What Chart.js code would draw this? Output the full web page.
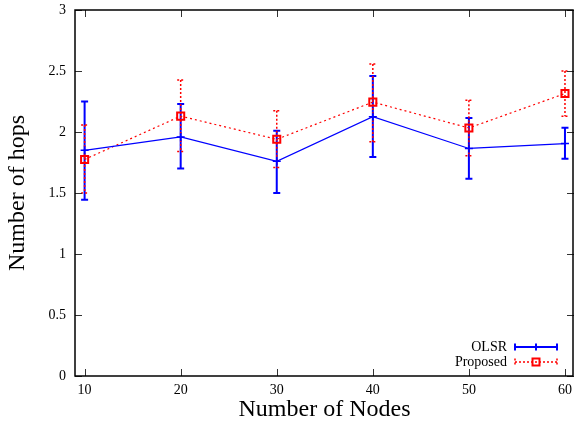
<!DOCTYPE html>
<html>
<head>
<meta charset="utf-8">
<script src="https://cdn.jsdelivr.net/npm/chart.js@4/dist/chart.umd.min.js"></script>
<style>
html,body{margin:0;padding:0;background:#fff;}
#wrap{width:574px;height:424px;}
</style>
</head>
<body>
<div id="wrap"><canvas id="c" width="574" height="424"></canvas></div>
<script>
const nodes = [10, 20, 30, 40, 50, 60];
const olsrMean = [1.85, 1.96, 1.76, 2.125, 1.865, 1.905];
const olsrLow  = [1.445, 1.70, 1.50, 1.795, 1.617, 1.78];
const olsrHigh = [2.25, 2.23, 2.01, 2.46, 2.115, 2.035];
const propMean = [1.775, 2.13, 1.94, 2.245, 2.033, 2.315];
const propLow  = [1.50, 1.84, 1.71, 1.92, 1.806, 2.13];
const propHigh = [2.057, 2.426, 2.175, 2.557, 2.26, 2.50];
const xTicks = [10, 20, 30, 40, 50, 60];
const yTicks = [0, 0.5, 1, 1.5, 2, 2.5, 3];

const FONT = "'Liberation Serif', 'Times New Roman', serif";
const BLUE = '#0000ff';
const RED = '#ff0000';

const errorBars = {
  olsr: {low: olsrLow, high: olsrHigh, color: BLUE, dash: [], width: 2},
  prop: {low: propLow, high: propHigh, color: RED, dash: [2, 2], width: 1.5}
};

function drawBar(ctx, x, y1, y2, eb) {
  ctx.save();
  ctx.strokeStyle = eb.color;
  ctx.lineWidth = eb.width;
  ctx.setLineDash(eb.dash);
  ctx.beginPath();
  ctx.moveTo(x, y1); ctx.lineTo(x, y2);
  ctx.moveTo(x - 3.5, y1); ctx.lineTo(x + 3.5, y1);
  ctx.moveTo(x - 3.5, y2); ctx.lineTo(x + 3.5, y2);
  ctx.stroke();
  ctx.restore();
}

const customPlugin = {
  id: 'custom',
  beforeDatasetsDraw(chart) {
    const ctx = chart.ctx, xs = chart.scales.x, ys = chart.scales.y;
    chart.data.datasets.forEach(ds => {
      const eb = errorBars[ds.key];
      nodes.forEach((n, i) => {
        drawBar(ctx, xs.getPixelForValue(n), ys.getPixelForValue(eb.high[i]), ys.getPixelForValue(eb.low[i]), eb);
      });
    });
  },
  afterDraw(chart) {
    const ctx = chart.ctx, a = chart.chartArea, xs = chart.scales.x, ys = chart.scales.y;
    ctx.save();
    ctx.strokeStyle = '#333';
    ctx.lineWidth = 1;
    ctx.beginPath();
    xTicks.forEach(v => {
      const x = Math.round(xs.getPixelForValue(v)) + 0.5;
      ctx.moveTo(x, a.bottom); ctx.lineTo(x, a.bottom - 7);
      ctx.moveTo(x, a.top); ctx.lineTo(x, a.top + 7);
    });
    yTicks.forEach(v => {
      const y = Math.round(ys.getPixelForValue(v)) + 0.5;
      ctx.moveTo(a.left, y); ctx.lineTo(a.left + 7, y);
      ctx.moveTo(a.right, y); ctx.lineTo(a.right - 7, y);
    });
    ctx.stroke();
    ctx.strokeStyle = '#000';
    ctx.lineWidth = 1.5;
    ctx.strokeRect(a.left, a.top, a.right - a.left - 1, a.bottom - a.top);
    ctx.font = '14px ' + FONT;
    ctx.fillStyle = '#000';
    ctx.textAlign = 'right';
    ctx.textBaseline = 'middle';
    const rows = [{y: 347, key: 'olsr'}, {y: 362, key: 'prop'}];
    chart.data.datasets.forEach((ds, i) => {
      const r = rows[i];
      const eb = errorBars[ds.key];
      ctx.fillText(ds.label, 507, r.y);
      ctx.save();
      ctx.strokeStyle = eb.color;
      ctx.lineWidth = ds.key === 'olsr' ? 2 : 1.5;
      ctx.setLineDash(eb.dash);
      ctx.beginPath();
      ctx.moveTo(515, r.y); ctx.lineTo(557, r.y);
      ctx.moveTo(515, r.y - 3.5); ctx.lineTo(515, r.y + 3.5);
      ctx.moveTo(557, r.y - 3.5); ctx.lineTo(557, r.y + 3.5);
      ctx.stroke();
      ctx.setLineDash([]);
      ctx.beginPath();
      if (ds.key === 'olsr') {
        ctx.moveTo(536, r.y - 3.5); ctx.lineTo(536, r.y + 3.5);
        ctx.stroke();
      } else {
        ctx.lineWidth = 2;
        ctx.strokeRect(532.5, r.y - 3.5, 7, 7);
      }
      ctx.restore();
    });
    ctx.restore();
  }
};

new Chart(document.getElementById('c'), {
  type: 'line',
  data: {
    datasets: [
      {
        key: 'olsr',
        label: 'OLSR',
        data: nodes.map((n, i) => ({x: n, y: olsrMean[i]})),
        borderColor: BLUE,
        borderWidth: 1.2,
        pointStyle: 'cross',
        pointRadius: 4,
        pointBorderWidth: 1.5,
        pointBorderColor: BLUE,
        fill: false,
        tension: 0
      },
      {
        key: 'prop',
        label: 'Proposed',
        data: nodes.map((n, i) => ({x: n, y: propMean[i]})),
        borderColor: RED,
        borderWidth: 1.2,
        borderDash: [2, 3],
        pointStyle: 'rect',
        pointRadius: 5,
        pointBorderWidth: 2,
        pointBorderColor: RED,
        pointBackgroundColor: 'rgba(255,255,255,0)',
        fill: false,
        tension: 0
      }
    ]
  },
  options: {
    responsive: false,
    animation: false,
    layout: {autoPadding: false, padding: {top: 10, right: 0, left: 0, bottom: 0}},
    plugins: {legend: {display: false}, tooltip: {enabled: false}},
    scales: {
      x: {
        type: 'linear',
        min: 9,
        max: 60.94,
        afterBuildTicks: s => { s.ticks = xTicks.map(v => ({value: v})); },
        afterFit: s => { s.height = 48; s.paddingLeft = 0; s.paddingRight = 0; },
        grid: {display: false, drawTicks: false},
        border: {display: false},
        ticks: {color: '#000', font: {family: FONT, size: 14}, padding: 6, maxRotation: 0,
          callback: v => String(v)},
        title: {display: true, text: 'Number of Nodes', color: '#000',
          font: {family: FONT, size: 24}, padding: 0}
      },
      y: {
        type: 'linear',
        min: 0,
        max: 3,
        afterBuildTicks: s => { s.ticks = yTicks.map(v => ({value: v})); },
        afterFit: s => { s.width = 75; s.paddingTop = 0; s.paddingBottom = 0; },
        grid: {display: false, drawTicks: false},
        border: {display: false},
        ticks: {color: '#000', font: {family: FONT, size: 14}, padding: 9,
          callback: v => String(v)},
        title: {display: true, text: 'Number of hops', color: '#000',
          font: {family: FONT, size: 24}, padding: 3}
      }
    }
  },
  plugins: [customPlugin]
});
</script>
</body>
</html>
